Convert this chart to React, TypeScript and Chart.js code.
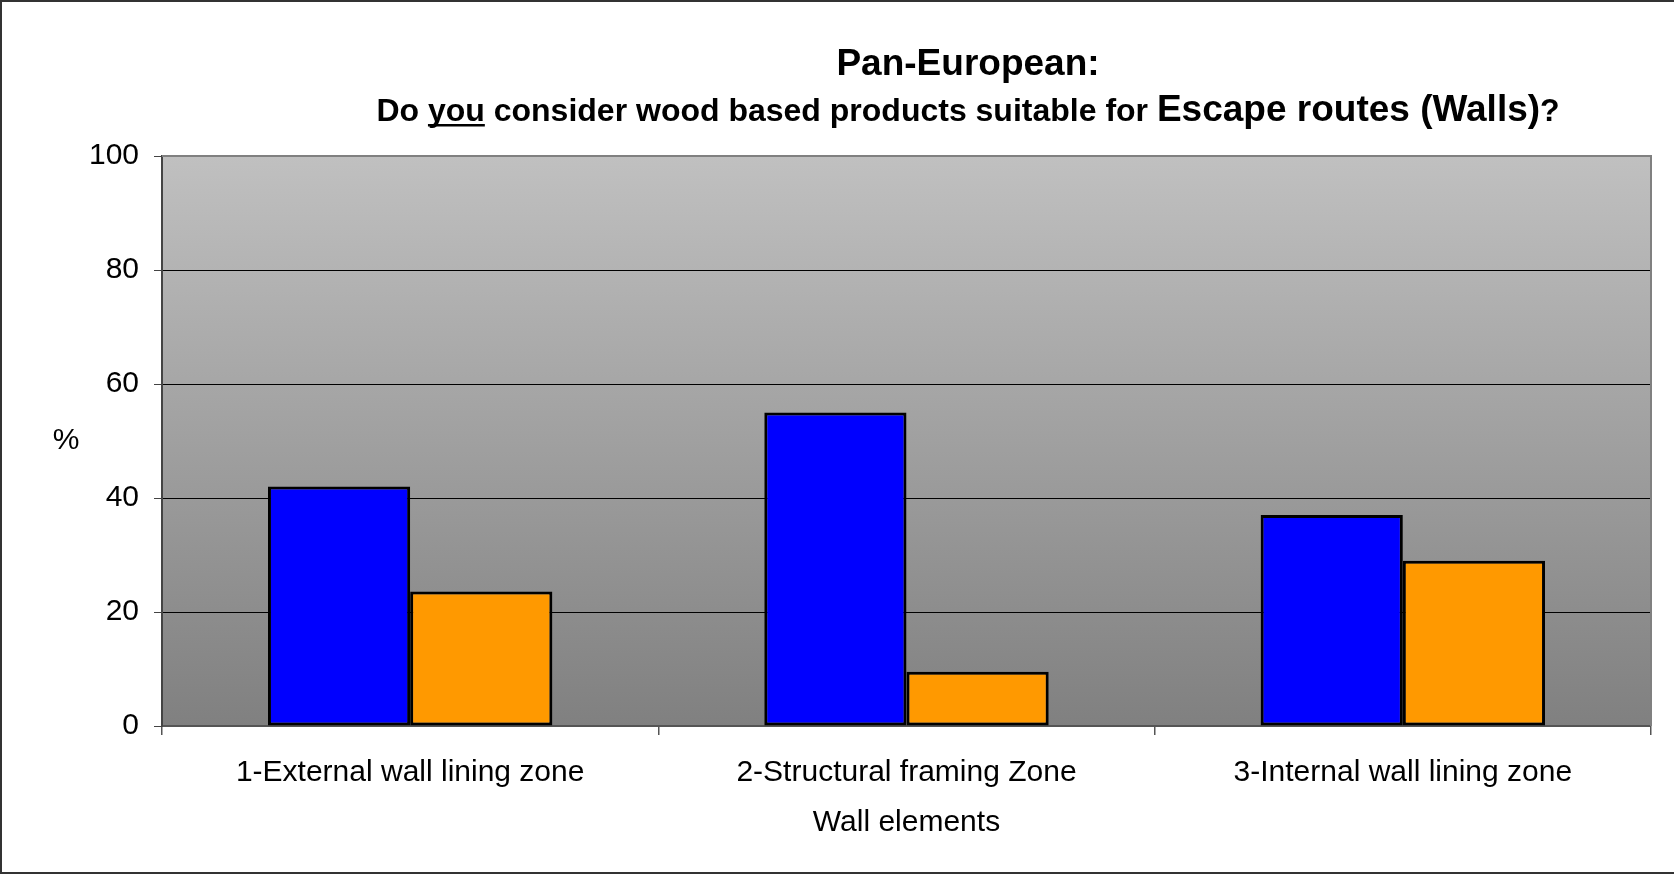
import React, { useEffect, useRef } from "react";
import { Chart, registerables } from "chart.js";

Chart.register(...registerables);

const categories = [
  "1-External wall lining zone",
  "2-Structural framing Zone",
  "3-Internal wall lining zone",
];
const seriesYes = [42, 55, 37];
const seriesNo = [23.6, 9.5, 29];
const yTicks = [0, 20, 40, 60, 80, 100];

const titleText = "Pan-European:";
const subtitleParts = ["Do ", "you", " consider wood based products suitable for "];
const subtitleBig = "Escape routes (Walls)";
const subtitleEnd = "?";
const xAxisTitle = "Wall elements";
const yAxisTitle = "%";

const FONT = '"Liberation Sans", Arial, Helvetica, sans-serif';
const W = 1674;
const H = 874;

const decorPlugin = {
  id: "decor",
  beforeDraw(chart: any) {
    const { ctx, chartArea: a } = chart;
    ctx.save();
    ctx.fillStyle = "#ffffff";
    ctx.fillRect(0, 0, chart.width, chart.height);
    const g = ctx.createLinearGradient(0, a.top, 0, a.bottom);
    g.addColorStop(0, "#c0c0c0");
    g.addColorStop(1, "#808080");
    ctx.fillStyle = g;
    ctx.fillRect(a.left, a.top, a.right - a.left, a.bottom - a.top);
    ctx.restore();
  },
  afterDraw(chart: any) {
    const { ctx, chartArea: a } = chart;
    ctx.save();
    // plot area top/right border
    ctx.strokeStyle = "#808080";
    ctx.lineWidth = 2;
    ctx.beginPath();
    ctx.moveTo(a.left, a.top);
    ctx.lineTo(a.right, a.top);
    ctx.lineTo(a.right, a.bottom);
    ctx.stroke();

    // outer frame
    ctx.strokeStyle = "#333333";
    ctx.lineWidth = 2;
    ctx.beginPath();
    ctx.moveTo(1, H);
    ctx.lineTo(1, 1);
    ctx.lineTo(W, 1);
    ctx.moveTo(0, H - 1);
    ctx.lineTo(W, H - 1);
    ctx.stroke();

    // titles
    const cx = 968;
    ctx.fillStyle = "#000";
    ctx.textBaseline = "alphabetic";
    ctx.textAlign = "left";
    ctx.font = `bold 37px ${FONT}`;
    const tw = ctx.measureText(titleText).width;
    ctx.fillText(titleText, cx - tw / 2, 75);

    const smallFont = `bold 32px ${FONT}`;
    const bigFont = `bold 37px ${FONT}`;
    ctx.font = smallFont;
    const widths = subtitleParts.map((p) => ctx.measureText(p).width);
    const endW = ctx.measureText(subtitleEnd).width;
    ctx.font = bigFont;
    const bigW = ctx.measureText(subtitleBig).width;
    const total = widths.reduce((s, v) => s + v, 0) + bigW + endW;
    let x = cx - total / 2;
    const by = 121;
    ctx.font = smallFont;
    subtitleParts.forEach((p, i) => {
      ctx.fillText(p, x, by);
      if (i === 1) {
        ctx.fillRect(x, by + 3, widths[i], 2.5);
      }
      x += widths[i];
    });
    ctx.font = bigFont;
    ctx.fillText(subtitleBig, x, by);
    x += bigW;
    ctx.font = smallFont;
    ctx.fillText(subtitleEnd, x, by);

    // y axis title (horizontal)
    ctx.font = `30px ${FONT}`;
    ctx.textAlign = "center";
    ctx.textBaseline = "middle";
    ctx.fillText(yAxisTitle, 66, (a.top + a.bottom) / 2);
    ctx.restore();
  },
};

export default function App() {
  const ref = useRef<HTMLCanvasElement | null>(null);
  useEffect(() => {
    if (!ref.current) return;
    const chart = new Chart(ref.current, {
      type: "bar",
      data: {
        labels: categories,
        datasets: [
          {
            label: "Yes",
            data: seriesYes,
            backgroundColor: "#0000ff",
            borderColor: "#000000",
            borderWidth: 3,
            borderSkipped: false,
            categoryPercentage: 0.573,
            barPercentage: 1.0,
          },
          {
            label: "No",
            data: seriesNo,
            backgroundColor: "#ff9900",
            borderColor: "#000000",
            borderWidth: 3,
            borderSkipped: false,
            categoryPercentage: 0.573,
            barPercentage: 1.0,
          },
        ],
      },
      options: {
        responsive: false,
        devicePixelRatio: 1,
        animation: false,
        layout: { padding: { left: 0, top: 156, right: 23, bottom: 0 } },
        plugins: {
          legend: { display: false },
          title: { display: false },
          tooltip: { enabled: false },
        },
        scales: {
          x: {
            afterFit(scale: any) {
              scale.height = 148;
            },
            grid: {
              display: true,
              drawOnChartArea: false,
              offset: true,
              tickLength: 9,
              color: "#555555",
              lineWidth: 1.5,
            },
            border: { display: true, color: "#555555", width: 2 },
            ticks: {
              color: "#000",
              font: { family: FONT, size: 30 },
              padding: 20,
              maxRotation: 0,
              autoSkip: false,
            },
            title: {
              display: true,
              text: xAxisTitle,
              color: "#000",
              font: { family: FONT, size: 30 },
              padding: { top: 0, bottom: 33 },
            },
          },
          y: {
            min: 0,
            max: 100,
            afterFit(scale: any) {
              scale.width = 162;
            },
            afterBuildTicks(scale: any) {
              scale.ticks = yTicks.map((v) => ({ value: v }));
            },
            grid: {
              color: "#000000",
              lineWidth: 1,
              tickLength: 8,
              tickColor: "#444444",
            },
            border: { display: true, color: "#444444", width: 2 },
            ticks: {
              color: "#000",
              font: { family: FONT, size: 30 },
              padding: 15,
              stepSize: 20,
            },
          },
        },
      },
      plugins: [decorPlugin],
    });
    return () => chart.destroy();
  }, []);
  return (
    <div style={{ position: "absolute", left: 0, top: 0, width: W, height: H, background: "#fff" }}>
      <canvas ref={ref} width={W} height={H} style={{ display: "block" }} />
    </div>
  );
}
